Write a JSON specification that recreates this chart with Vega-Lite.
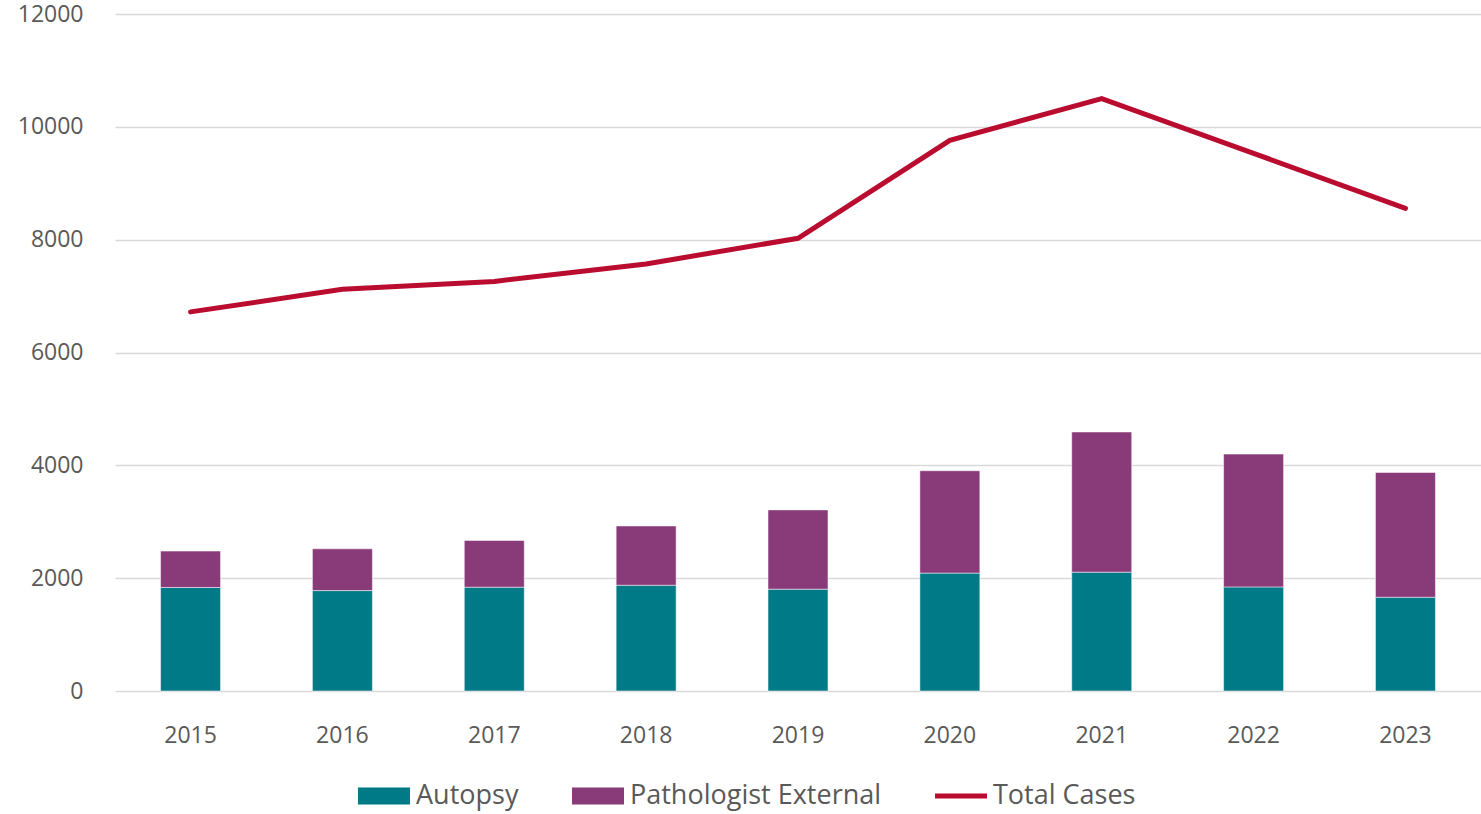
{
  "$schema": "https://vega.github.io/schema/vega-lite/v6.json",
  "autosize": {"type": "none"},
  "padding": {"left": 115, "top": 14, "right": 0, "bottom": 123},
  "width": 1366,
  "height": 677,
  "background": "white",
  "datasets": {
    "bars": [
      {"year": "2015", "series": "Autopsy", "value": 1835},
      {"year": "2015", "series": "Pathologist External", "value": 645},
      {"year": "2016", "series": "Autopsy", "value": 1780},
      {"year": "2016", "series": "Pathologist External", "value": 740},
      {"year": "2017", "series": "Autopsy", "value": 1840},
      {"year": "2017", "series": "Pathologist External", "value": 828},
      {"year": "2018", "series": "Autopsy", "value": 1875},
      {"year": "2018", "series": "Pathologist External", "value": 1050},
      {"year": "2019", "series": "Autopsy", "value": 1805},
      {"year": "2019", "series": "Pathologist External", "value": 1405},
      {"year": "2020", "series": "Autopsy", "value": 2090},
      {"year": "2020", "series": "Pathologist External", "value": 1814},
      {"year": "2021", "series": "Autopsy", "value": 2107},
      {"year": "2021", "series": "Pathologist External", "value": 2484},
      {"year": "2022", "series": "Autopsy", "value": 1845},
      {"year": "2022", "series": "Pathologist External", "value": 2354},
      {"year": "2023", "series": "Autopsy", "value": 1662},
      {"year": "2023", "series": "Pathologist External", "value": 2212}
    ],
    "total": [
      {"year": "2015", "series": "Total Cases", "value": 6720},
      {"year": "2016", "series": "Total Cases", "value": 7120},
      {"year": "2017", "series": "Total Cases", "value": 7260},
      {"year": "2018", "series": "Total Cases", "value": 7570},
      {"year": "2019", "series": "Total Cases", "value": 8025},
      {"year": "2020", "series": "Total Cases", "value": 9760},
      {"year": "2021", "series": "Total Cases", "value": 10500},
      {"year": "2022", "series": "Total Cases", "value": 9530},
      {"year": "2023", "series": "Total Cases", "value": 8555}
    ]
  },
  "encoding": {
    "x": {
      "field": "year",
      "type": "nominal",
      "scale": {"paddingInner": 0.605, "paddingOuter": 0.3},
      "axis": {
        "title": null,
        "labelAngle": 0,
        "domain": false,
        "ticks": false,
        "grid": false,
        "labelPadding": 33,
        "labelFont": "Open Sans",
        "labelFontSize": 23,
        "labelColor": "#595959"
      }
    },
    "y": {
      "field": "value",
      "type": "quantitative",
      "scale": {"domain": [0, 12000], "nice": false},
      "axis": {
        "title": null,
        "values": [0, 2000, 4000, 6000, 8000, 10000, 12000],
        "format": "d",
        "domain": false,
        "ticks": false,
        "grid": true,
        "gridColor": "#d9d9d9",
        "gridWidth": 1.5,
        "labelPadding": 32,
        "labelFont": "Open Sans",
        "labelFontSize": 23,
        "labelColor": "#595959"
      }
    },
    "color": {
      "field": "series",
      "type": "nominal",
      "scale": {
        "domain": ["Autopsy", "Pathologist External", "Total Cases"],
        "range": ["#007A86", "#893A78", "#BA0C2F"]
      },
      "legend": {
        "title": null,
        "orient": "none",
        "direction": "horizontal",
        "legendX": 243,
        "legendY": 756,
        "padding": 0,
        "symbolSize": 2704,
        "labelFont": "Open Sans",
        "labelFontSize": 27,
        "labelLimit": 0,
        "labelColor": "#595959",
        "labelOffset": 6,
        "columnPadding": 53,
        "encode": {
          "symbols": {
            "update": {
              "shape": [
                {"test": "datum.label === 'Total Cases'", "value": "M-1,-0.095H1V0.095H-1Z"},
                {"value": "M-1,-0.33H1V0.33H-1Z"}
              ],
              "strokeWidth": {"value": 0},
              "opacity": {"value": 1}
            }
          }
        }
      }
    }
  },
  "layer": [
    {
      "data": {"name": "bars"},
      "mark": {"type": "bar", "stroke": "#ffffff", "strokeWidth": 1, "strokeOpacity": 0.5},
      "encoding": {
        "order": {"field": "series", "sort": "ascending"}
      }
    },
    {
      "data": {"name": "total"},
      "mark": {"type": "line", "strokeWidth": 5, "strokeCap": "round", "strokeJoin": "miter"},
      "encoding": {}
    }
  ],
  "config": {
    "view": {"stroke": null}
  }
}
